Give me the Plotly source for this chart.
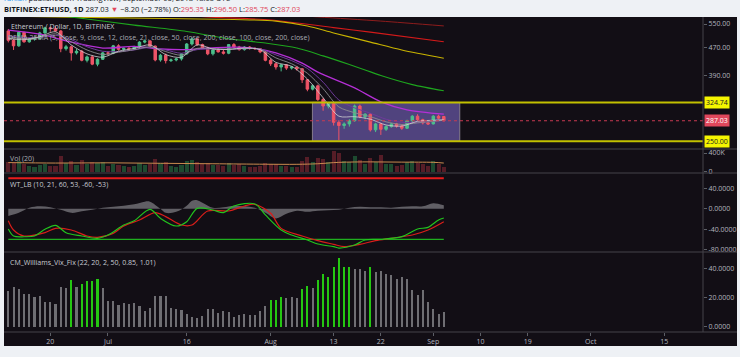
import math
import pandas as pd
import plotly.graph_objects as go

# ---------------- data ----------------
START = "2018-06-12"
N_BARS = 84

opens = [525, 493, 475, 520, 488, 497, 499, 518, 536, 533,
         525, 466, 472, 453, 458, 431, 441, 420, 434, 453,
         452, 475, 464, 467, 466, 472, 487, 491, 474, 432,
         446, 430, 432, 435, 450, 481, 498, 479, 468, 450,
         462, 456, 452, 479, 471, 463, 471, 467, 466, 456,
         431, 421, 412, 418, 409, 412, 407, 378, 355, 363,
         331, 317, 322, 284, 278, 281, 287, 317, 295, 300,
         270, 281, 271, 276, 281, 277, 273, 287, 296, 289,
         283, 281, 296, 295.35]
highs = [532, 497, 522, 522, 500, 504, 522, 540, 540, 542,
         528, 478, 476, 465, 462, 445, 445, 437, 456, 458,
         478, 480, 470, 472, 475, 490, 496, 494, 476, 450,
         451, 436, 438, 452, 484, 503, 500, 482, 472, 466,
         468, 462, 481, 484, 475, 474, 474, 470, 468, 459,
         436, 424, 420, 420, 414, 415, 409, 380, 366, 366,
         335, 324, 324, 288, 284, 290, 320, 320, 302, 302,
         283, 283, 278, 283, 283, 280, 289, 298, 300, 291,
         286, 298, 299, 296.5]
lows = [486, 462, 472, 485, 485, 492, 494, 515, 522, 523,
        455, 460, 430, 448, 428, 425, 417, 414, 432, 446,
        449, 460, 458, 460, 462, 468, 483, 470, 428, 427,
        422, 426, 428, 430, 448, 476, 475, 465, 446, 445,
        454, 448, 449, 468, 460, 460, 463, 462, 452, 428,
        415, 405, 400, 404, 405, 402, 370, 350, 352, 328,
        307, 312, 278, 252, 272, 276, 285, 292, 290, 267,
        266, 261, 268, 274, 274, 270, 272, 284, 287, 280,
        279, 280, 290, 285.75]
closes = [493, 475, 520, 488, 497, 499, 518, 536, 533, 525,
          466, 472, 453, 458, 431, 441, 420, 434, 453, 452,
          475, 464, 467, 466, 472, 487, 491, 474, 432, 446,
          430, 432, 435, 450, 481, 498, 479, 468, 450, 462,
          456, 452, 479, 471, 463, 471, 467, 466, 456, 431,
          421, 412, 418, 409, 412, 407, 378, 355, 363, 331,
          317, 322, 284, 278, 281, 287, 317, 295, 300, 270,
          281, 271, 276, 281, 277, 273, 287, 296, 289, 283,
          281, 296, 292, 287.03]
volumes_k = [200, 180, 230, 170, 120, 110, 140, 160, 130, 120,
             330, 190, 220, 150, 240, 170, 210, 180, 200, 130,
             170, 150, 120, 110, 130, 180, 150, 170, 280, 190,
             200, 120, 110, 150, 230, 240, 200, 170, 180, 150,
             140, 130, 190, 150, 160, 130, 110, 100, 120, 190,
             170, 160, 130, 120, 100, 110, 230, 320, 200, 290,
             280, 200, 450, 390, 220, 200, 330, 260, 170, 300,
             200, 350, 170, 160, 120, 150, 210, 220, 190, 170,
             130, 230, 170, 110]
vol_ma_bars = [1, 10, 20, 30, 40, 50, 56, 60, 64, 70, 76, 82, 84]
vol_ma_k = [195, 185, 190, 180, 170, 160, 158, 170, 200, 210, 205, 200, 185]

vix_values = [24.8, 27.6, 26.0, 22.3, 22.3, 20.5, 21.4, 16.8, 16.8, 15.9,
              27.6, 26.7, 32.2, 27.1, 29.4, 31.3, 31.3, 32.6, 26.7, 17.7,
              17.7, 14.9, 16.1, 15.4, 16.3, 14.3, 10.8, 13.1, 20.9, 20.9,
              20.9, 13.1, 12.2, 11.5, 8.5, 6.9, 6.2, 7.4, 12.2, 12.2,
              9.2, 10.8, 10.2, 6.9, 8.0, 8.5, 7.8, 7.8, 10.8, 14.3,
              18.4, 18.4, 20.5, 19.8, 20.2, 19.8, 26.2, 27.8, 26.7, 32.0,
              36.6, 34.5, 41.4, 47.6, 41.4, 41.1, 39.5, 40.0, 38.4, 41.1,
              37.9, 38.4, 36.1, 35.9, 32.6, 34.0, 32.9, 25.5, 21.8, 25.1,
              16.8, 12.0, 9.0, 10.1]
vix_green_bars = [13, 15, 16, 17, 18, 51, 52, 53, 57, 58, 60, 61, 62, 63, 64, 65, 66, 70]

wt1_bars = [1, 2, 4, 6, 8, 10, 12, 15, 18, 20, 23, 25, 28, 30, 33, 35, 37, 40, 42, 44,
            48, 50, 53, 55, 58, 60, 63, 64, 67, 69, 72, 76, 79, 81, 83, 84]
wt1_vals = [-39.8, -53.5, -55, -53.5, -40.4, -32.5, -47, -53.5, -58.1, -51.6, -31.9, -23.4,
            -1.1, -18.8, -33.9, -25.3, 0.9, -2.4, -7.6, 5.5, 9.5, -12.1, -41.7, -51.6, -61.4,
            -69.3, -74.5, -77.2, -71.3, -61.4, -60.1, -54.9, -39.8, -36.5, -22, -18.1]
wt2_bars = [1, 2, 4, 8, 10, 13, 16, 18, 21, 23, 26, 29, 31, 34, 36, 39, 43, 46, 48, 51,
            53, 57, 60, 63, 65, 68, 71, 74, 78, 81, 84]
wt2_vals = [-23.4, -41.7, -53.5, -47, -38.5, -41.7, -53.5, -56.1, -48.3, -33.9, -22, -7.6,
            -15.5, -31.9, -31.9, -4.3, -4.3, 5.5, 8.8, -8.9, -38.5, -53.5, -62.7, -69.9, -74.5,
            -69.9, -62.7, -58.1, -51.6, -41.7, -25.3]
wt_diff_bars = [1, 3, 5, 7, 9, 11, 13, 15, 17, 19, 21, 23, 25, 27, 28, 30, 31, 33, 35, 36,
                37, 38, 40, 42, 44, 46, 48, 50, 52, 54, 56, 58, 60, 62, 64, 66, 68, 70, 72,
                74, 76, 78, 80, 82, 84]
wt_diff_vals = [-14, -8, 2, 5, 3, -2, -8, -5, -2, 2, 4, 6, 9, 14, 14, 0, -8, -6, 6, 16,
                17, 12, 2, 3, 6, 5, 2, -8, -19, -10, -4, -6, -4, -3, -2, 2, 4, 3, 3,
                2, 4, 5, 5, 11, 7]
wt_levels = [60, -60]

ma_step_bars = [1, 4, 7, 10, 13, 16, 19, 22, 25, 28, 31, 34, 37, 40, 43, 46, 49, 52, 55, 58,
                61, 64, 67, 70, 73, 76, 79, 82, 84]
ema5_vals = [500, 495, 505, 522, 478, 450, 440, 458, 467, 478, 448, 440, 478, 465, 464, 468,
             463, 425, 414, 380, 335, 296, 295, 290, 279, 277, 286, 288, 289]
ema9_vals = [505, 498, 503, 515, 488, 462, 448, 455, 463, 472, 457, 446, 467, 466, 464, 467,
             464, 438, 421, 395, 356, 315, 303, 295, 285, 280, 283, 286, 288]
ema12_vals = [508, 502, 503, 510, 495, 472, 458, 457, 462, 470, 462, 452, 463, 465, 464, 466,
              465, 447, 430, 408, 372, 330, 313, 302, 290, 284, 284, 286, 288]
ema21_bars = [1, 7, 13, 19, 25, 30, 35, 39, 45, 48, 52, 57, 60, 67, 72, 77, 84]
ema21_vals = [528, 514, 487, 468, 473, 465, 463, 468, 471, 467, 453, 423, 398, 358, 326, 309, 300]
ema50_bars = [1, 10, 16, 25, 35, 43, 50, 56, 61, 66, 69, 72, 78, 84]
ema50_vals = [612, 584, 569, 546, 523, 498, 484, 468, 444, 419, 404, 389, 366, 351]
ma100_bars = [1, 19, 44, 52, 58, 63, 70, 76, 84]
ma100_vals = [580, 574, 567, 561, 543, 518, 487, 462, 437]
ema200_bars = [30, 39, 51, 63, 70, 84]
ema200_vals = [589, 577, 565, 537, 521, 488]
sma200_bars = [50, 60, 72, 84]
sma200_vals = [592, 577, 561, 543]

level_lines = [324.74, 250.00]
last_price = 287.03
box_dates = ["2018-08-08 23:00", "2018-09-06 01:00"]

x_ticks = ["2018-06-20", "2018-07-01", "2018-07-16", "2018-08-01", "2018-08-13",
           "2018-08-22", "2018-09-01", "2018-09-10", "2018-09-19", "2018-10-01", "2018-10-15"]
x_tick_text = ["20", "Jul", "16", "Aug", "13", "22", "Sep", "10", "19", "Oct", "15"]

# ---------------- layout helpers ----------------
W_FIG, H_FIG = 740, 357
L, R, T, B = 4, 37, 17, 25
PW, PH = W_FIG - L - R, H_FIG - T - B
BOT = T + PH


def xp(px):
    return (px - L) / PW


def yp(py):
    return (BOT - py) / PH


dates = pd.date_range(START, periods=N_BARS, freq="D")


def d(bars):
    return [dates[b - 1] for b in bars]


BG = "#120e15"
TXT = "#b2b5be"
FONT = "Open Sans"
UP, DOWN = "#4cbf8c", "#ef5467"

fig = go.Figure()

# price pane
ma_specs = [
    (sma200_bars, sma200_vals, "#8e1c1c", 1.0),
    (ema200_bars, ema200_vals, "#d41a1a", 1.1),
    (ma100_bars, ma100_vals, "#c9b400", 1.1),
    (ema50_bars, ema50_vals, "#1ea51e", 1.1),
    (ema21_bars, ema21_vals, "#b52fd6", 1.3),
    (ma_step_bars, ema12_vals, "#6e3a9a", 1.0),
    (ma_step_bars, ema9_vals, "#8c8c90", 0.9),
    (ma_step_bars, ema5_vals, "#d0d0d4", 0.8),
]
for bars, vals, col, w in ma_specs:
    fig.add_trace(go.Scatter(x=d(bars), y=vals, mode="lines",
                             line=dict(color=col, width=w, shape="spline", smoothing=0.8),
                             xaxis="x", yaxis="y", hoverinfo="skip"))

fig.add_trace(go.Candlestick(
    x=dates, open=opens, high=highs, low=lows, close=closes,
    increasing=dict(line=dict(color=UP, width=1), fillcolor=UP),
    decreasing=dict(line=dict(color=DOWN, width=1), fillcolor=DOWN),
    whiskerwidth=0, xaxis="x", yaxis="y", hoverinfo="skip"))

# volume pane
vol_colors = ["#1d4a30" if c >= o else "#561d27" for o, c in zip(opens, closes)]
fig.add_trace(go.Bar(x=dates, y=[v * 1000 for v in volumes_k], marker=dict(color=vol_colors, line=dict(width=0)),
                     width=0.78 * 86400000, xaxis="x", yaxis="y2", hoverinfo="skip"))
fig.add_trace(go.Scatter(x=d(vol_ma_bars), y=[v * 1000 for v in vol_ma_k], mode="lines",
                         line=dict(color="#c98a4e", width=1, shape="spline"),
                         xaxis="x", yaxis="y2", hoverinfo="skip"))

# WT pane
fig.add_trace(go.Scatter(x=d(wt_diff_bars), y=wt_diff_vals, mode="lines", fill="tozeroy",
                         fillcolor="rgba(150,150,155,0.6)", line=dict(width=0, shape="spline"),
                         xaxis="x", yaxis="y3", hoverinfo="skip"))
fig.add_trace(go.Scatter(x=[dates[0], dates[-1]], y=[wt_levels[0]] * 2, mode="lines",
                         line=dict(color="#e81c1c", width=2), xaxis="x", yaxis="y3", hoverinfo="skip"))
fig.add_trace(go.Scatter(x=[dates[0], dates[-1]], y=[wt_levels[1]] * 2, mode="lines",
                         line=dict(color="#1fae1f", width=1.2), xaxis="x", yaxis="y3", hoverinfo="skip"))
fig.add_trace(go.Scatter(x=d(wt2_bars), y=wt2_vals, mode="lines",
                         line=dict(color="#d81e1a", width=1.2, shape="spline", smoothing=0.9),
                         xaxis="x", yaxis="y3", hoverinfo="skip"))
fig.add_trace(go.Scatter(x=d(wt1_bars), y=wt1_vals, mode="lines",
                         line=dict(color="#22c41e", width=1.2, shape="spline", smoothing=0.9),
                         xaxis="x", yaxis="y3", hoverinfo="skip"))

# Vix pane
vix_colors = ["#25c712" if (i + 1) in vix_green_bars else "#6f6e73" for i in range(N_BARS)]
fig.add_trace(go.Bar(x=dates, y=vix_values, marker=dict(color=vix_colors, line=dict(width=0)),
                     width=0.40 * 86400000, xaxis="x", yaxis="y4", hoverinfo="skip"))

# ---------------- axes ----------------
x_range = [dates[0] - pd.Timedelta(days=0.82), dates[0] + pd.Timedelta(days=132.4)]

yax = dict(side="right", anchor="x", showgrid=False, zeroline=False, ticks="outside", ticklen=3,
           tickcolor="#5d5f66", tickfont=dict(size=7, color=TXT, family=FONT), showline=False,
           fixedrange=True)

fig.update_layout(
    width=W_FIG, height=H_FIG,
    margin=dict(l=L, r=R, t=T, b=B, pad=0),
    paper_bgcolor="#eef1f5", plot_bgcolor=BG,
    showlegend=False, hovermode=False,
    boxgap=0.32,
    bargap=0,
    font=dict(family=FONT, size=7, color=TXT),
    xaxis=dict(type="date", range=x_range, anchor="y4", showgrid=False, zeroline=False,
               ticks="outside", ticklen=3, tickcolor="#5d5f66", tickvals=x_ticks, ticktext=x_tick_text,
               tickfont=dict(size=7, color=TXT, family=FONT), rangeslider=dict(visible=False),
               showline=False, fixedrange=True),
    yaxis=dict(yax, domain=[yp(149), 1], type="log",
               range=[math.log10(237.4), math.log10(576.6)],
               tickvals=[390, 470, 550], ticktext=["390.00", "470.00", "550.00"]),
    yaxis2=dict(yax, domain=[yp(173), yp(149)], range=[-27800, 485600],
                tickvals=[0, 400000], ticktext=["0", "400K"]),
    yaxis3=dict(yax, domain=[yp(252), yp(173)], range=[-85, 70.4],
                tickvals=[40, 0, -40, -80], ticktext=["40.0000", "0.0000", "-40.0000", "-80.0000"]),
    yaxis4=dict(yax, domain=[0, yp(252)], range=[-3.66, 51.5],
                tickvals=[40, 20, 0], ticktext=["40.0000", "20.0000", "0.0000"]),
)

# ---------------- shapes ----------------
shapes = []
shapes.append(dict(type="rect", xref="paper", yref="paper", x0=xp(4), x1=xp(737),
                   y0=yp(346), y1=1, fillcolor=BG, line=dict(width=0), layer="below"))
# box (shapes on this log axis take data values)
shapes.append(dict(type="rect", xref="x", yref="y", x0=box_dates[0], x1=box_dates[1],
                   y0=level_lines[1], y1=level_lines[0],
                   fillcolor="rgba(132,112,214,0.55)", line=dict(color="#857c8c", width=1), layer="below"))
for lv in level_lines:
    shapes.append(dict(type="line", xref="paper", yref="y", x0=0, x1=1,
                       y0=lv, y1=lv, line=dict(color="#c2c000", width=2)))
shapes.append(dict(type="line", xref="paper", yref="y", x0=0, x1=1,
                   y0=last_price, y1=last_price,
                   line=dict(color="#c73a52", width=1, dash="dot")))
for py in [149, 173, 252, 332]:
    shapes.append(dict(type="line", xref="paper", yref="paper", x0=xp(4), x1=xp(737),
                       y0=yp(py), y1=yp(py), line=dict(color="#45434a", width=1)))
shapes.append(dict(type="line", xref="paper", yref="paper", x0=1, x1=1, y0=0, y1=1,
                   line=dict(color="#45434a", width=1)))
fig.update_layout(shapes=shapes)

# ---------------- annotations ----------------
ann = []


def txt(px, py, s, size=7, color=TXT, **kw):
    ann.append(dict(xref="paper", yref="paper", x=xp(px), y=yp(py), text=s, showarrow=False,
                    xanchor="left", yanchor="middle", font=dict(size=size, color=color, family=FONT), **kw))


RED = "#e0455a"
header = ("<b>BITFINEX:ETHUSD, 1D</b> 287.03 <span style='color:%s'>▼</span> −8.20 (−2.78%%) "
          "O:<span style='color:%s'>295.35</span> H:<span style='color:%s'>296.50</span> "
          "L:<span style='color:%s'>285.75</span> C:<span style='color:%s'>287.03</span>") % (RED, RED, RED, RED, RED)
txt(2, 8.7, header, size=7.5, color="#131722")
txt(2, -2.2, "<span style='color:#2196f3'>rahlan</span> published on TradingView, September 05, 2018 18:03 UTC",
    size=7.5, color="#131722")
txt(2, 358.5, "Created with  <span style='color:#2196f3'>☁ TradingView</span>", size=7.5, color="#131722")
txt(9, 26.5, "Ethereum / Dollar, 1D, BITFINEX", size=7, color="#c9ccd2")
txt(6, 37, "DEMA 25MA (5, close, 9, close, 12, close, 21, close, 50, close, 200, close, 100, close, 200, close)",
    size=7, color="#a9acb3")
txt(8, 158.5, "Vol (20)", size=7, color="#a9acb3")
txt(8, 184, "WT_LB (10, 21, 60, 53, -60, -53)", size=7, color="#c9ccd2")
txt(8, 262.5, "CM_Williams_Vix_Fix (22, 20, 2, 50, 0.85, 1.01)", size=7, color="#c9ccd2")

for val, bg, fg in [(level_lines[0], "#f5f500", "#202020"), (last_price, "#e0475c", "#ffffff"),
                    (level_lines[1], "#f5f500", "#202020")]:
    ann.append(dict(xref="paper", yref="y", x=xp(704), y=math.log10(val), text="%.2f" % val,
                    showarrow=False, xanchor="left", yanchor="middle", bgcolor=bg, borderpad=1,
                    font=dict(size=7, color=fg, family=FONT)))

fig.update_layout(annotations=ann)

fig.write_html("out.html", config={"displayModeBar": False},
               post_script="document.body.style.margin='0';document.body.style.padding='0';")
